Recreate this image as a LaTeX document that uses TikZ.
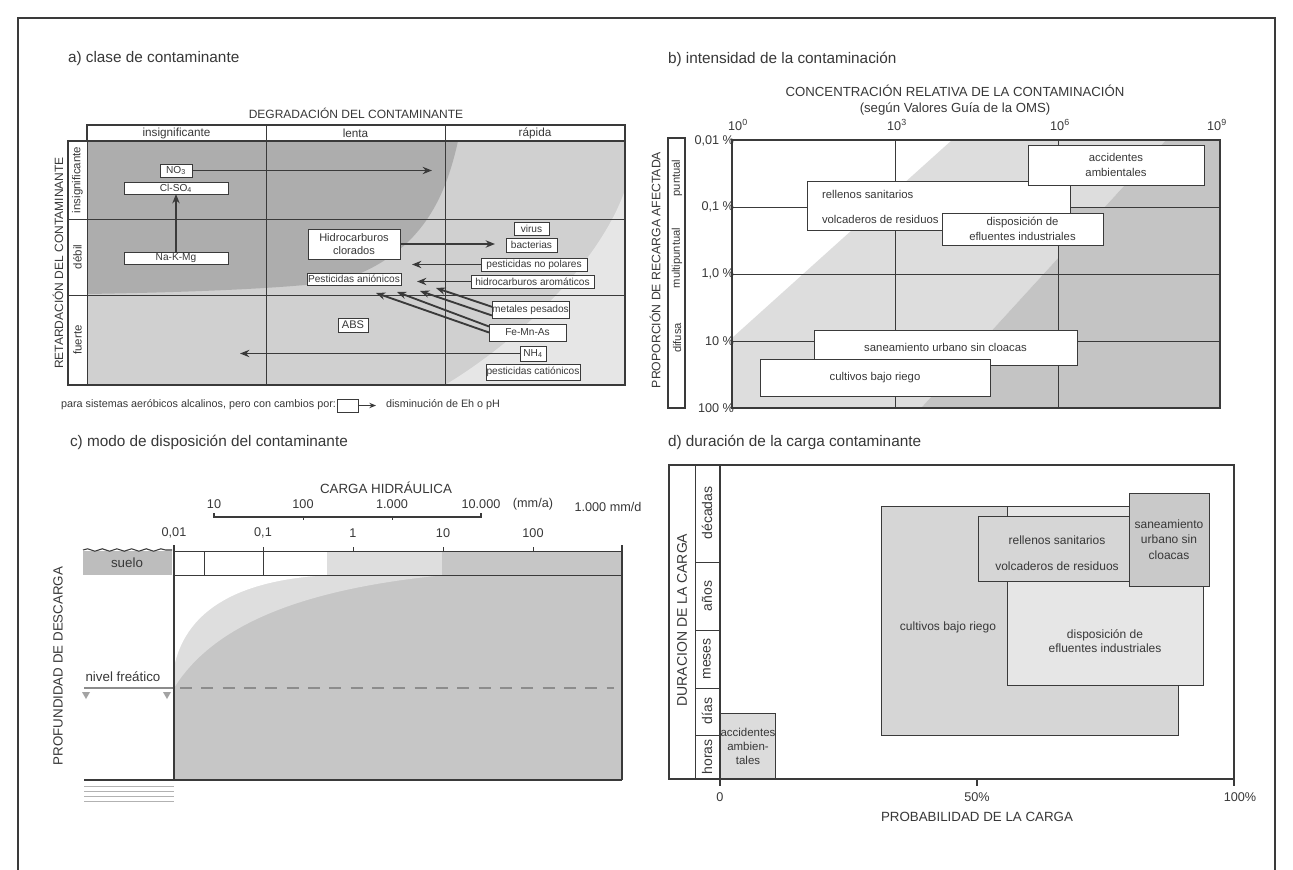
\documentclass[tikz,border=0pt]{standalone}
\usepackage{fontspec}
\setmainfont{Liberation Sans}
\usetikzlibrary{arrows.meta,decorations.pathmorphing}
\definecolor{txt}{HTML}{383838}
\definecolor{lin}{HTML}{3A3A3A}
\definecolor{aDark}{HTML}{ADADAD}
\definecolor{aMid}{HTML}{D0D0D0}
\definecolor{aLight}{HTML}{E6E6E6}
\definecolor{bLight}{HTML}{DDDDDD}
\definecolor{bDark}{HTML}{C4C4C4}
\definecolor{cDark}{HTML}{C6C6C6}
\definecolor{cLight}{HTML}{DEDEDE}
\definecolor{cSoil}{HTML}{BDBDBD}
\definecolor{wt}{HTML}{8C8C8C}
\definecolor{dCul}{HTML}{D6D6D6}
\definecolor{dDis}{HTML}{E6E6E6}
\definecolor{dSan}{HTML}{C9C9C9}
\definecolor{dAcc}{HTML}{DCDCDC}
\newcommand\fz[2]{\fontsize{#1}{#2}\selectfont}
% box: name, x1, y1, x2, y2, style, text
\newcommand\bx[7]{\node[#6, minimum width={(#4-#2)*0.75pt}, minimum height={(#5-#3)*0.75pt}] (#1) at ({(#2+#4)/2},{(#3+#5)/2}) {#7};}
\tikzset{
 every node/.style={text=txt, inner sep=0pt, outer sep=0pt},
 ttl/.style={anchor=west, font=\fz{11.5}{13}},
 hd/.style={font=\fz{8.8}{10}},
 rowl/.style={font=\fz{8.6}{10}, rotate=90},
 abox/.style={draw=lin, fill=white, line width=0.6pt, font=\fz{7.6}{9}, align=center},
 bbox/.style={draw=lin, fill=white, line width=0.7pt, font=\fz{8.5}{11}, align=center},
 dbox/.style={draw=lin, line width=0.7pt, font=\fz{9}{11.5}, align=center},
 tk/.style={font=\fz{9.5}{11}},
 arr/.style={draw=lin, line width=1.4pt, -{Stealth[length=7pt,width=5.5pt]}},
 frm/.style={draw=lin, line width=1.1pt},
 grd/.style={draw=lin, line width=0.7pt},
}
\begin{document}
\begin{tikzpicture}[x=0.75pt,y=-0.75pt]
\useasboundingbox (0,0) rectangle (1293,870);
\fill[white] (0,0) rectangle (1293,870);
\draw[lin, line width=1pt] (18,870) -- (18,18) -- (1275,18) -- (1275,870);

% ================= PANEL A =================
\node[ttl] (ta) at (68,59) {a) clase de contaminante};
\node[font=\fz{9}{10}] (degr) at (356,113) {DEGRADACIÓN DEL CONTAMINANTE};
\node[font=\fz{9}{10}, rotate=90] (retd) at (58,263) {RETARDACIÓN DEL CONTAMINANTE};
\fill[aMid] (87,141) rectangle (625,385);
\fill[aLight] (445,385) .. controls (520,340) and (600,262) .. (625,190) -- (625,385) -- cycle;
\fill[aDark] (87,141) -- (458,141) .. controls (445,200) and (420,255) .. (340,281) .. controls (280,290) and (150,293) .. (87,294) -- cycle;
\draw[grd] (266,125) -- (266,385) (445,125) -- (445,385);
\draw[grd] (68,219) -- (625,219) (68,295) -- (625,295);
\draw[grd] (87,141) -- (87,385);
\draw[frm] (87,125) rectangle (625,141);
\draw[frm] (68,141) rectangle (625,385);
\node[hd] (h1) at (176.5,133) {insignificante};
\node[hd] (h2) at (355.5,133) {lenta};
\node[hd] (h3) at (535,133) {rápida};
\node[rowl] (r1) at (77.5,180) {insignificante};
\node[rowl] (r2) at (77.5,257) {débil};
\node[rowl] (r3) at (77.5,340) {fuerte};

\bx{no3}{160}{164}{192}{177}{abox}{NO\textsubscript{3}}
\bx{clso}{124}{182}{228}{194}{abox}{Cl-SO\textsubscript{4}}
\bx{nakmg}{124}{252}{228}{264}{abox}{Na-K-Mg}
\bx{hidro}{308}{229}{400}{259}{abox, font=\fz{8.3}{10}}{Hidrocarburos\\clorados}
\bx{virus}{514}{222}{549}{235}{abox}{virus}
\bx{bact}{506}{238}{557}{252}{abox}{bacterias}
\bx{pnp}{481}{258}{587}{271}{abox}{pesticidas no polares}
\bx{pani}{307}{273}{401}{285}{abox}{Pesticidas aniónicos}
\bx{harom}{471}{275}{594}{288}{abox}{hidrocarburos aromáticos}
\bx{metal}{492}{301}{569}{318}{abox}{metales pesados}
\bx{femnas}{489}{324}{566}{341}{abox}{Fe-Mn-As}
\bx{nh4}{520}{346}{546}{361}{abox}{NH\textsubscript{4}}
\bx{pcat}{486}{364}{580}{380}{abox}{pesticidas catiónicos}
\bx{abs}{338}{318}{368}{332}{abox, font=\fz{8.3}{10}}{ABS}

\coordinate (no3tip) at (432,170.5);
\coordinate (hidtip) at (495,244);
\coordinate (pnptip) at (412,264.5);
\coordinate (haromtip) at (417,281.5);
\coordinate (nh4tip) at (240,353.5);
\coordinate (d1) at (376,293);
\coordinate (d2) at (397,292);
\coordinate (d3) at (420,291);
\coordinate (d4) at (436,288);
\draw[arr] (no3.east) -- (no3tip);
\draw[arr] (nakmg.north) -- (clso.south);
\draw[arr] (hidro.east) -- (hidtip);
\draw[arr] (pnp.west) -- (pnptip);
\draw[arr] (harom.west) -- (haromtip);
\draw[arr] (nh4.west) -- (nh4tip);
\draw[arr] (femnas.west) -- (d1);
\draw[arr] ([yshift=4.5pt]femnas.west) -- (d2);
\draw[arr] ([yshift=-4.5pt]metal.west) -- (d3);
\draw[arr] ([yshift=2pt]metal.west) -- (d4);

\node[anchor=west, font=\fz{8.1}{10}] (leg1) at (61,405) {para sistemas aeróbicos alcalinos, pero con cambios por:};
\bx{legbox}{337}{399}{358}{412}{abox}{}
\coordinate (legtip) at (376,405.5);
\draw[draw=lin, line width=1pt, -{Stealth[length=5pt,width=4pt]}] (legbox.east) -- (legtip);
\node[anchor=west, font=\fz{8.1}{10}] (leg2) at (386,405) {disminución de Eh o pH};

% ================= PANEL B =================
\node[ttl] (tb) at (668,59) {b) intensidad de la contaminación};
\node[font=\fz{9.9}{12}, align=center] (conc) at (955,100) {CONCENTRACIÓN RELATIVA DE LA CONTAMINACIÓN\\(según Valores Guía de la OMS)};
\fill[bLight] (732,338) -- (952,140) -- (1166,140) -- (921,408) -- (732,408) -- cycle;
\fill[bDark] (1166,140) -- (1220,140) -- (1220,408) -- (921,408) -- cycle;
\fill[bDark] (1058,207) rectangle (1220,408);
\draw[grd] (895,140) -- (895,408) (1058,140) -- (1058,408);
\draw[grd] (732,207) -- (1220,207) (732,274) -- (1220,274) (732,341) -- (1220,341);
\draw[frm] (732,140) rectangle (1220,408);
\node[tk] (x0) at (738,125) {10\textsuperscript{0}};
\node[tk] (x3) at (897,125) {10\textsuperscript{3}};
\node[tk] (x6) at (1060,125) {10\textsuperscript{6}};
\node[tk] (x9) at (1217,125) {10\textsuperscript{9}};
\node[tk, anchor=east] (y1) at (734,141) {0,01 \%};
\node[tk, anchor=east] (y2) at (734,207) {0,1 \%};
\node[tk, anchor=east] (y3) at (734,274) {1,0 \%};
\node[tk, anchor=east] (y4) at (734,341) {10 \%};
\node[tk, anchor=east] (y5) at (734,408) {100 \%};
\draw[frm] (668,138) rectangle (685,408);
\node[rowl, font=\fz{8.4}{10}] (pu) at (677,178) {puntual};
\node[rowl, font=\fz{8.4}{10}] (mp) at (677,258) {multipuntual};
\node[rowl, font=\fz{8.4}{10}] (df) at (677,338) {difusa};
\node[font=\fz{9.2}{11}, rotate=90] (prop) at (655,270) {PROPORCIÓN DE RECARGA AFECTADA};

\bx{rel}{807}{181}{1070}{230}{bbox}{}
\node[anchor=west, font=\fz{8.5}{10}] (relt1) at (822,194) {rellenos sanitarios};
\node[anchor=west, font=\fz{8.5}{10}] (relt2) at (822,219) {volcaderos de residuos};
\bx{acc}{1028}{145}{1204}{185}{bbox}{accidentes\\ambientales}
\bx{disp}{942}{213}{1103}{245}{bbox}{disposición de\\efluentes industriales}
\bx{san}{814}{330}{1077}{365}{bbox}{saneamiento urbano sin cloacas}
\bx{cul}{760}{359}{990}{396}{bbox}{cultivos bajo riego}

% ================= PANEL C =================
\node[ttl] (tc) at (70,442) {c) modo de disposición del contaminante};
\node[font=\fz{10}{12}] (carga) at (386,488) {CARGA HIDRÁULICA};
\draw[lin, line width=1.1pt] (214,513) -- (214,517) -- (481,517) -- (481,513);
\draw[grd] (303,517) -- (303,520) (392,517) -- (392,520);
\node[tk] (u1) at (214,504) {10};
\node[tk] (u2) at (303,504) {100};
\node[tk] (u3) at (392,504) {1.000};
\node[tk] (u4) at (481,504) {10.000};
\node[tk] (u5) at (533,504) {(mm/a)};
\node[tk] (u6) at (608,507) {1.000 mm/d};
\node[tk] (l1) at (174,533) {0,01};
\node[tk] (l2) at (263,533) {0,1};
\node[tk] (l3) at (353,533) {1};
\node[tk] (l4) at (443,533) {10};
\node[tk] (l5) at (533,533) {100};
\fill[cLight] (327,551) rectangle (442,575);
\fill[cDark] (442,551) rectangle (622,575);
\fill[cDark] (174,575) rectangle (622,780);
\fill[cLight] (174,575) -- (445,575) .. controls (290,590) and (210,630) .. (174,688) -- cycle;
\fill[white] (174,575) -- (330,575) .. controls (230,580) and (185,615) .. (174,667) -- cycle;
\draw[grd] (174,551) -- (622,551) (174,575) -- (622,575) (204,551) -- (204,575) (263,551) -- (263,575);
\draw[grd] (263,551) -- (263,547) (353,551) -- (353,547) (443,551) -- (443,547) (533,551) -- (533,547);
\fill[cSoil] (83,551) rectangle (172,575);
\node[font=\fz{10}{12}] (suelo) at (127,563) {suelo};
\draw[lin, line width=0.8pt, decorate, decoration={snake, amplitude=0.9pt, segment length=11pt}] (83,550) -- (172,550);
\draw[wt, line width=1.3pt, dash pattern=on 9pt off 7pt] (180,688) -- (614,688);
\draw[wt, line width=1.2pt] (84,688) -- (174,688);
\fill[wt!80] (82,692) -- (90,692) -- (86,699) -- cycle;
\fill[wt!80] (163,692) -- (171,692) -- (167,699) -- cycle;
\node[font=\fz{10}{12}] (nf) at (123,677) {nivel freático};
\draw[lin, line width=1.3pt] (174,545) -- (174,780);
\draw[lin, line width=1.1pt] (622,545) -- (622,780);
\draw[lin, line width=1.5pt] (84,780) -- (622,780);
\draw[gray!60, line width=0.5pt] (84,786) -- (174,786) (84,791) -- (174,791) (84,796) -- (174,796) (84,801) -- (174,801);
\node[font=\fz{10}{12}, rotate=90] (prof) at (58,666) {PROFUNDIDAD DE DESCARGA};

% ================= PANEL D =================
\node[ttl] (td) at (668,442) {d) duración de la carga contaminante};
\bx{dcul}{881}{506}{1178}{735}{dbox, fill=dCul}{}
\bx{ddis}{1007}{506}{1203}{685}{dbox, fill=dDis}{}
\bx{drel}{978}{516}{1129}{581}{dbox, fill=dCul}{}
\bx{dsan}{1129}{493}{1209}{586}{dbox, fill=dSan}{saneamiento\\urbano sin\\cloacas}
\bx{dacc}{722}{713}{774}{779}{dbox, fill=dAcc, font=\fz{8.6}{10.5}}{accidentes\\ambien-\\tales}
\node[font=\fz{9}{11}] (dcult) at (948,627) {cultivos bajo riego};
\node[font=\fz{9}{11}, align=center] (ddist) at (1105,641) {disposición de\\efluentes industriales};
\node[font=\fz{9}{11}] (drelt1) at (1057,540) {rellenos sanitarios};
\node[font=\fz{9}{11}] (drelt2) at (1057,566) {volcaderos de residuos};
\draw[frm] (669,465) rectangle (1234,779);
\draw[grd] (695,465) -- (695,779);
\draw[lin, line width=1.1pt] (720,465) -- (720,786);
\draw[grd] (695,562) -- (720,562) (695,630) -- (720,630) (695,688) -- (720,688) (695,735) -- (720,735);
\draw[lin, line width=1.1pt] (977,779) -- (977,786) (1234,779) -- (1234,786);
\node[font=\fz{10.5}{12}, rotate=90] (dcar) at (682,620) {DURACION DE LA CARGA};
\node[rowl, font=\fz{10.5}{12}] (c1) at (707,513) {décadas};
\node[rowl, font=\fz{10.5}{12}] (c2) at (707,596) {años};
\node[rowl, font=\fz{10.5}{12}] (c3) at (707,659) {meses};
\node[rowl, font=\fz{10.5}{12}] (c4) at (707,711) {días};
\node[rowl, font=\fz{10.5}{12}] (c5) at (707,757) {horas};
\node[tk] (p0) at (720,797) {0};
\node[tk] (p50) at (977,797) {50\%};
\node[tk] (p100) at (1240,797) {100\%};
\node[font=\fz{10}{12}] (prob) at (977,817) {PROBABILIDAD DE LA CARGA};
\end{tikzpicture}
\end{document}
